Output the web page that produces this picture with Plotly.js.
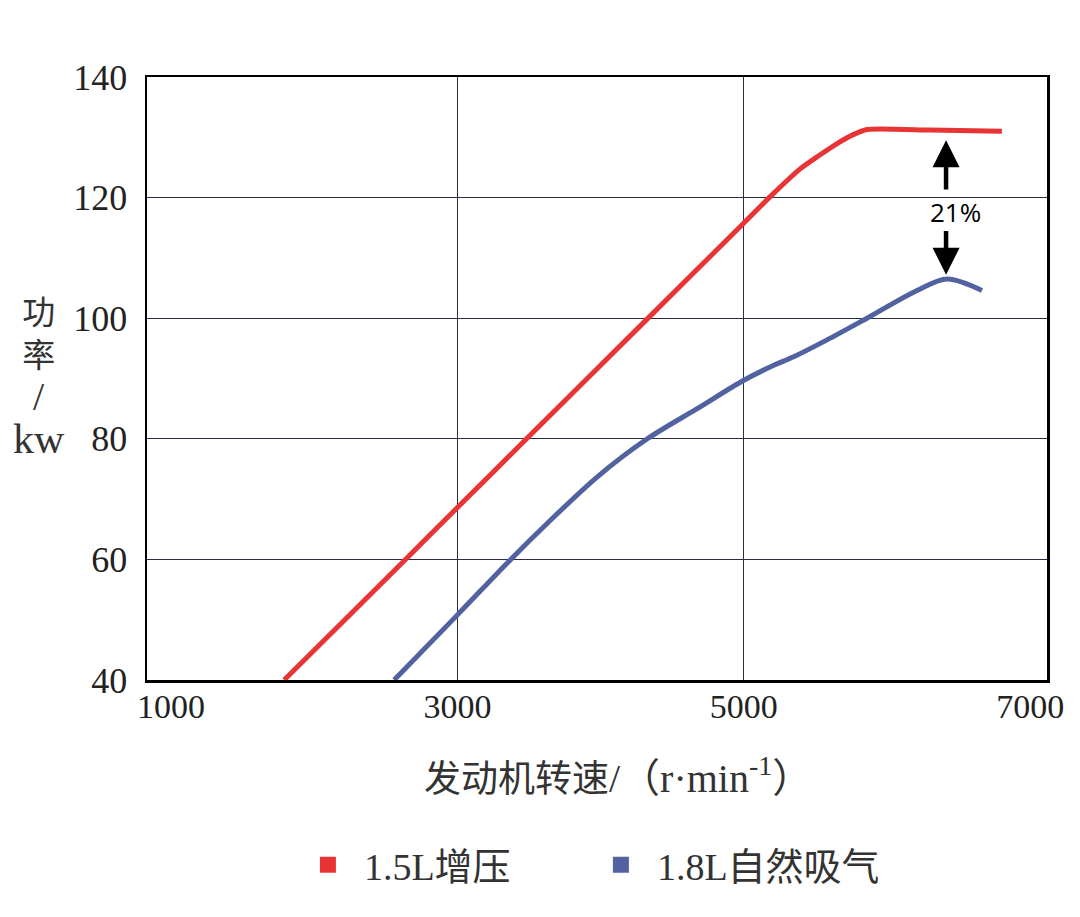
<!DOCTYPE html>
<html>
<head>
<meta charset="utf-8">
<script src="https://cdn.plot.ly/plotly-3.0.1.min.js"></script>
<style>
  body { margin: 0; background: #fff; }
  #chart { width: 1080px; height: 917px; }
</style>
</head>
<body>
<div id="chart"></div>
<script>
// engine speed (r/min) vs power (kW)
const turboRpm = [1790, 2616, 3000, 3453, 4314, 5000, 5186, 5395, 5520, 5640, 5760, 5860, 6300, 6802];
const turboKw  = [40, 59.5, 68.6, 79.3, 99.6, 115.8, 120.2, 124.8, 126.9, 128.8, 130.4, 131.3, 131.2, 131.0];

const naRpm = [2558, 3000, 3372, 3628, 3977, 4326, 4674, 5000, 5209, 5348, 5581, 5860, 6209, 6419, 6663];
const naKw  = [40, 50.8, 60, 66, 73.7, 80, 85, 89.7, 92.2, 93.6, 96.4, 100, 104.6, 106.5, 104.6];

const seriesNames = ['1.5L增压', '1.8L自然吸气'];
const seriesColors = ['#e83434', '#5262a0'];

const xTicks = [1000, 3000, 5000, 7000];
const xGrid = [3000, 5000];
const yTicks = [40, 60, 80, 100, 120, 140];

const serif = '"Liberation Serif", "Noto Sans CJK SC", serif';

function lineTrace(x, y, i, smooth) {
    return {
        x: x,
        y: y,
        type: 'scatter',
        mode: 'lines',
        line: {color: seriesColors[i], width: 5, shape: 'spline', smoothing: smooth},
        showlegend: false,
        hoverinfo: 'skip',
    };
}

function legendTrace(i) {
    return {
        x: [null],
        y: [null],
        type: 'scatter',
        mode: 'markers',
        name: seriesNames[i],
        marker: {color: seriesColors[i], symbol: 'square', size: 16},
    };
}

let traces = [
    lineTrace(turboRpm, turboKw, 0, 0.6),
    lineTrace(naRpm, naKw, 1, 0.9),
    legendTrace(0),
    legendTrace(1),
];

let layout = {
    width: 1080,
    height: 917,
    margin: {l: 147, r: 33, t: 77, b: 237},
    paper_bgcolor: '#fff',
    plot_bgcolor: '#fff',
    font: {family: serif, color: '#222'},
    xaxis: {
        range: [832, 7117],
        tickvals: xTicks,
        ticks: '',
        ticklabelstandoff: -5,
        showgrid: false,
        zeroline: false,
        minor: {tickvals: xGrid, showgrid: true, gridcolor: '#2b2b45', gridwidth: 1.2},
        showline: true, mirror: true, linecolor: '#000', linewidth: 2.5,
        tickfont: {family: serif, size: 34, color: '#222'},
    },
    yaxis: {
        range: [40, 140],
        tickvals: yTicks,
        ticks: '',
        ticklabelstandoff: 10,
        showgrid: true, gridcolor: '#2b2b45', gridwidth: 1.2,
        zeroline: false,
        showline: true, mirror: true, linecolor: '#000', linewidth: 2.5,
        tickfont: {family: serif, size: 36, color: '#222'},
    },
    legend: {
        orientation: 'h',
        x: 0.161, xanchor: 'left',
        y: -0.307, yanchor: 'middle',
        itemwidth: 62,
        entrywidth: 216, entrywidthmode: 'pixels',
        font: {family: serif, size: 38, color: '#333'},
        bgcolor: 'rgba(0,0,0,0)',
    },
    annotations: [
        {
            // x axis title
            xref: 'paper', yref: 'paper', x: 0.523, y: -0.158,
            xanchor: 'center', yanchor: 'middle',
            text: '发动机转速<span style="font-size:40px">/（r·min<sup>-1</sup>）</span>',
            showarrow: false,
            font: {family: serif, size: 37, color: '#333'},
        },
        {
            // y axis title, stacked
            xref: 'paper', yref: 'paper', x: -0.12, y: 0.5,
            xanchor: 'center', yanchor: 'middle',
            text: '功<br>率<br><span style="font-size:40px">/</span><br><span style="font-size:42px">kw</span>',
            showarrow: false,
            font: {family: serif, size: 33, color: '#333'},
        },
        {
            x: 6477, y: 117.6, text: '21%', showarrow: false,
            font: {family: '"Open Sans", sans-serif', size: 26, color: '#000'},
        },
        {
            x: 6412, y: 129.5, ax: 6412, ay: 121.1, axref: 'x', ayref: 'y',
            text: '', showarrow: true, arrowhead: 2, arrowsize: 1.2, arrowwidth: 4.5,
            arrowcolor: '#000', standoff: 0, startstandoff: 0,
        },
        {
            x: 6412, y: 107.2, ax: 6412, ay: 114.7, axref: 'x', ayref: 'y',
            text: '', showarrow: true, arrowhead: 2, arrowsize: 1.2, arrowwidth: 4.5,
            arrowcolor: '#000', standoff: 0, startstandoff: 0,
        },
    ],
};

Plotly.newPlot('chart', traces, layout, {staticPlot: true});
</script>
</body>
</html>
